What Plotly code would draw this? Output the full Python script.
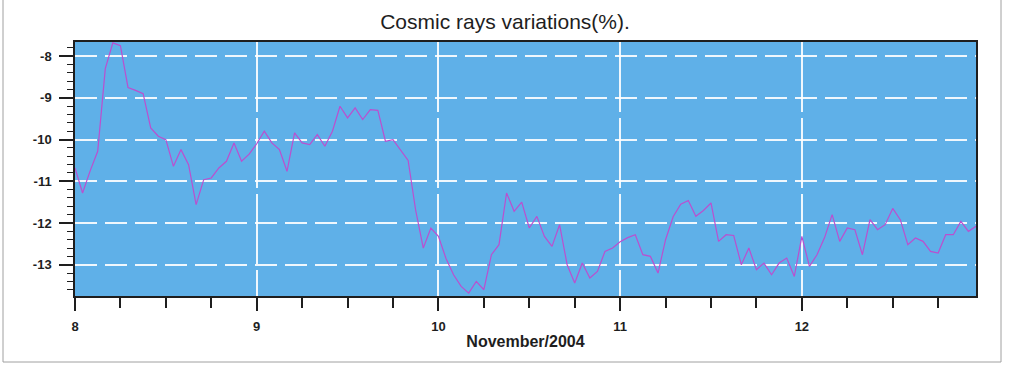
import plotly.graph_objects as go
import pandas as pd

# Hourly cosmic-ray variation (%), 8 Nov 2004 00:00 onward
values = [
    -10.68, -11.28, -10.75, -10.28, -8.30, -7.68, -7.75, -8.75, -8.82, -8.90,
    -9.72, -9.92, -10.00, -10.64, -10.24, -10.60, -11.56, -10.96, -10.92, -10.68,
    -10.52, -10.08, -10.52, -10.35, -10.10, -9.80, -10.08, -10.24, -10.76, -9.84,
    -10.08, -10.12, -9.88, -10.16, -9.80, -9.20, -9.48, -9.24, -9.52, -9.28,
    -9.30, -10.04, -10.00, -10.24, -10.50, -11.70, -12.60, -12.12, -12.32, -12.85,
    -13.24, -13.52, -13.68, -13.40, -13.60, -12.76, -12.52, -11.28, -11.72, -11.50,
    -12.12, -11.84, -12.32, -12.56, -12.04, -13.00, -13.44, -12.96, -13.32, -13.16,
    -12.68, -12.60, -12.45, -12.35, -12.28, -12.76, -12.80, -13.20, -12.40, -11.85,
    -11.55, -11.46, -11.84, -11.70, -11.52, -12.44, -12.28, -12.30, -13.00, -12.60,
    -13.12, -12.96, -13.24, -12.96, -12.84, -13.28, -12.32, -13.04, -12.76, -12.35,
    -11.80, -12.44, -12.12, -12.16, -12.76, -11.92, -12.16, -12.04, -11.65, -11.92,
    -12.52, -12.36, -12.44, -12.68, -12.72, -12.28, -12.28, -11.96, -12.20, -12.08,
]
start_time = "2004-11-08 00:00"
times = pd.date_range(start=start_time, periods=len(values), freq="h")

y_tickvals = [-8, -9, -10, -11, -12, -13]
y_ticktext = ["-8", "-9", "-10", "-11", "-12", "-13"]
x_tickvals = ["2004-11-08", "2004-11-09", "2004-11-10", "2004-11-11", "2004-11-12"]
x_ticktext = ["8", "9", "10", "11", "12"]

title_text = "Cosmic rays variations(%)."
xaxis_title = "November/2004"

FONT = "Liberation Sans, Arial, sans-serif"
INK = "#1e1e1e"

fig = go.Figure()
fig.add_trace(go.Scatter(
    x=times, y=values, mode="lines",
    line=dict(color="#bb4fcf", width=1.2),
    hoverinfo="x+y", showlegend=False,
))

fig.update_layout(
    width=1024, height=370,
    margin=dict(l=75, r=48, t=42, b=74),
    paper_bgcolor="white",
    plot_bgcolor="#5fb0e8",
    title=dict(text=title_text, x=505 / 1024, xanchor="center", xref="container",
               y=1 - 22 / 370, yanchor="middle", yref="container",
               font=dict(family=FONT, size=21, color=INK)),
    font=dict(family=FONT, color=INK),
    shapes=[dict(type="rect", xref="paper", yref="paper",
                 x0=-72 / 901, x1=(1001 - 75) / 901,
                 y0=-(362 - 296) / 254, y1=(296 + 1) / 254,
                 line=dict(color="#a0a0a0", width=1), layer="below")],
)

fig.update_xaxes(
    range=[times[0], times[-1]],
    tickmode="array", tickvals=x_tickvals, ticktext=x_ticktext,
    ticks="outside", ticklen=13, tickwidth=2, tickcolor=INK,
    ticklabelstandoff=4,
    tickfont=dict(family=FONT, size=13, color=INK, weight="bold"),
    minor=dict(tickmode="linear", tick0="2004-11-08", dtick=6 * 3600 * 1000,
               ticks="outside", ticklen=10, tickwidth=2, tickcolor=INK, showgrid=False),
    showgrid=True, gridcolor="rgba(255,255,255,0.9)", gridwidth=1.6, griddash="70px,6px",
    showline=True, linecolor=INK, linewidth=2, mirror=True,
    zeroline=False,
    title=dict(text=xaxis_title, standoff=3,
               font=dict(family=FONT, size=16, color=INK, weight="bold")),
)

fig.update_yaxes(
    range=[-13.75, -7.66],
    tickmode="array", tickvals=y_tickvals, ticktext=y_ticktext,
    ticks="outside", ticklen=14, tickwidth=2, tickcolor=INK,
    ticklabelstandoff=5,
    tickfont=dict(family=FONT, size=13, color=INK, weight="bold"),
    minor=dict(tickmode="linear", tick0=-14, dtick=0.2,
               ticks="outside", ticklen=6, tickwidth=1, tickcolor=INK, showgrid=False),
    showgrid=True, gridcolor="rgba(255,255,255,0.9)", gridwidth=2, griddash="22px,8px",
    showline=True, linecolor=INK, linewidth=1.5, mirror=True,
    zeroline=False,
)

fig.write_html("out.html", config={"displayModeBar": False},
               post_script="document.body.style.margin='0px';")
